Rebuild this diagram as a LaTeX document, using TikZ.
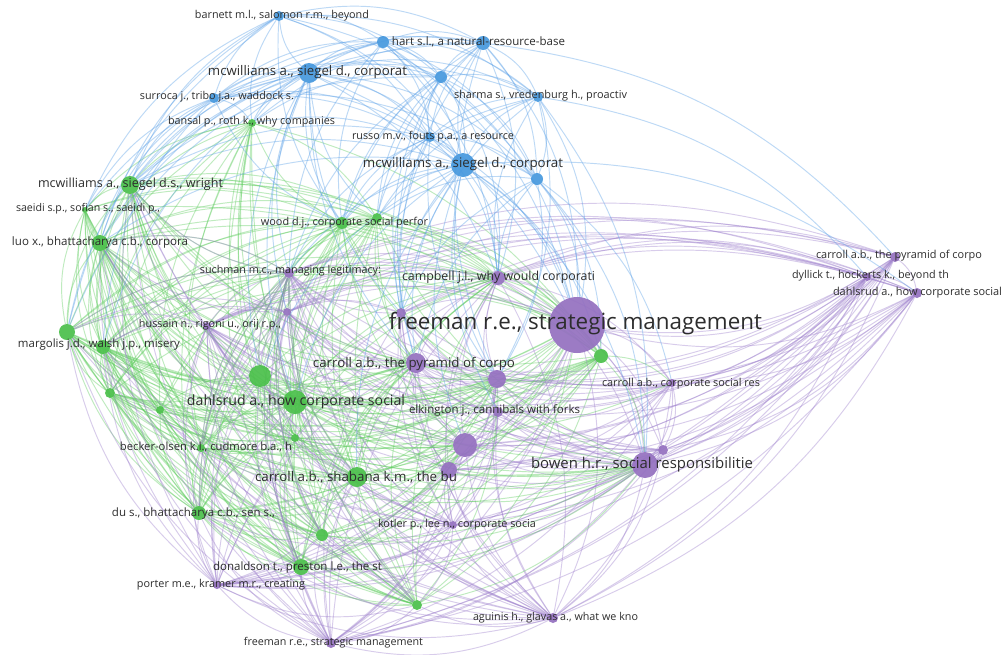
\documentclass[tikz,border=0pt]{standalone}
\usepackage{fontspec}
\setmainfont{Open Sans}
\usepackage{graphicx}
\definecolor{nb}{RGB}{70,152,222}
\definecolor{ng}{RGB}{74,192,74}
\definecolor{np}{RGB}{148,112,192}
\definecolor{eb}{RGB}{90,160,232}
\definecolor{eg}{RGB}{95,205,95}
\definecolor{ep}{RGB}{158,128,205}
\definecolor{txt}{RGB}{45,45,45}
\pgfdeclarelayer{bg}
\pgfdeclarelayer{edges}
\pgfsetlayers{bg,edges,main}
\tikzset{
  dot/.style={circle, inner sep=0pt, outer sep=0pt, draw=none, fill opacity=0.92},
  bdot/.style={dot, fill=nb},
  gdot/.style={dot, fill=ng},
  pdot/.style={dot, fill=np},
  lbl/.style={inner sep=0pt, text=txt, anchor=center},
  eblu/.style={draw=eb, draw opacity=0.4, line width=0.95pt},
  egrn/.style={draw=eg, draw opacity=0.4, line width=0.95pt},
  eprp/.style={draw=ep, draw opacity=0.4, line width=0.95pt},
}
\newcommand\mknode[5]{%
  \node[#5, minimum size=#4*2pt] (#1) at (#2,#3) {};%
  \expandafter\xdef\csname nx#1\endcsname{#2}%
  \expandafter\xdef\csname ny#1\endcsname{#3}}
\newcommand\mylab[5]{\node[lbl] (l#1) at (#2,#3) {\resizebox{#4pt}{!}{#5}};}
\newcommand\lnk[3]{%
  \pgfmathtruncatemacro\lnksgn{((\csname nx#2\endcsname-500)/100*(\csname ny#3\endcsname-330)/100-(\csname ny#2\endcsname-330)/100*(\csname nx#3\endcsname-500)/100)>0 ? 1 : 0}%
  \ifnum\lnksgn=1 \draw[#1] (#2) to[bend left=20] (#3);\else\draw[#1] (#2) to[bend right=20] (#3);\fi}
\def\BL{bar,hs,hart,mc1,b4,sur,sha,rus,mc2,b10}
\def\GL{ban,mcw,sae,wood,g2,luo,g3,mar,g26,g27,g24,dah,g28,bec,csh,du,g35,don,g39,g21}
\def\PL{such,p17,hus,p20,camp,free,pyr,p23,elk,p30,p31,crs,bow,p33,kot,por,agu,fr2,pyr2,dyl,dah2}
\begin{document}
\begin{tikzpicture}[x=1pt,y=-1pt]
\begin{pgfonlayer}{bg}
\fill[white] (0,0) rectangle (1003,654);
\end{pgfonlayer}
\useasboundingbox (0,0) rectangle (1003,654);
% blue nodes
\mknode{bar}{279}{16}{5}{bdot}
\mknode{hs}{383}{42}{6}{bdot}
\mknode{hart}{483}{43}{7}{bdot}
\mknode{mc1}{309}{73}{10}{bdot}
\mknode{b4}{441}{77}{6}{bdot}
\mknode{sur}{214}{98}{5}{bdot}
\mknode{sha}{538}{97}{5}{bdot}
\mknode{rus}{430}{137}{5}{bdot}
\mknode{mc2}{463}{165}{12}{bdot}
\mknode{b10}{537}{179}{6}{bdot}
% green nodes
\mknode{ban}{252}{123}{4}{gdot}
\mknode{mcw}{130}{185}{9}{gdot}
\mknode{sae}{85}{210}{3}{gdot}
\mknode{wood}{342}{223}{6}{gdot}
\mknode{g2}{377}{218}{5}{gdot}
\mknode{luo}{100}{243}{8}{gdot}
\mknode{g3}{67}{332}{8}{gdot}
\mknode{mar}{103}{347}{7}{gdot}
\mknode{g26}{110}{393}{5}{gdot}
\mknode{g27}{160}{410}{4}{gdot}
\mknode{g24}{260}{376}{11}{gdot}
\mknode{dah}{295}{402}{12}{gdot}
\mknode{g28}{295}{438}{4}{gdot}
\mknode{bec}{201}{448}{4}{gdot}
\mknode{csh}{357}{477}{10}{gdot}
\mknode{du}{199}{513}{7}{gdot}
\mknode{g35}{322}{535}{6}{gdot}
\mknode{don}{301}{567}{8}{gdot}
\mknode{g39}{417}{605}{5}{gdot}
\mknode{g21}{601}{356}{7}{gdot}
% purple nodes
\mknode{such}{289}{273}{5}{pdot}
\mknode{p17}{287}{312}{4}{pdot}
\mknode{hus}{207}{326}{4}{pdot}
\mknode{p20}{401}{313}{5}{pdot}
\mknode{camp}{498}{278}{7}{pdot}
\mknode{free}{577}{325}{28}{pdot}
\mknode{pyr}{416}{363}{10}{pdot}
\mknode{p23}{497}{379}{9}{pdot}
\mknode{elk}{498}{412}{5}{pdot}
\mknode{p30}{465}{445}{12}{pdot}
\mknode{p31}{449}{470}{8}{pdot}
\mknode{crs}{672}{383}{4}{pdot}
\mknode{bow}{645}{465}{13}{pdot}
\mknode{p33}{663}{450}{5}{pdot}
\mknode{kot}{453}{525}{4}{pdot}
\mknode{por}{217}{585}{4}{pdot}
\mknode{agu}{553}{618}{5}{pdot}
\mknode{fr2}{331}{643}{5}{pdot}
\mknode{pyr2}{895}{257}{5}{pdot}
\mknode{dyl}{867}{277}{4}{pdot}
\mknode{dah2}{917}{293}{5}{pdot}
% labels
\mylab{bar}{282}{16}{174}{barnett m.l., salomon r.m., beyond}
\mylab{hart}{478.5}{42}{173}{hart s.l., a natural-resource-base}
\mylab{mc1}{307.5}{72}{199}{mcwilliams a., siegel d., corporat}
\mylab{sur}{217}{97}{154}{surroca j., tribo j.a., waddock s.}
\mylab{sha}{540.5}{96}{173}{sharma s., vredenburg h., proactiv}
\mylab{ban}{251.5}{122}{167}{bansal p., roth k., why companies}
\mylab{rus}{433}{137}{162}{russo m.v., fouts p.a., a resource}
\mylab{mc2}{463}{164}{200}{mcwilliams a., siegel d., corporat}
\mylab{mcw}{130.5}{184}{185}{mcwilliams a., siegel d.s., wright}
\mylab{sae}{88}{209}{144}{saeidi s.p., sofian s., saeidi p.,}
\mylab{wood}{344.5}{223}{167}{wood d.j., corporate social perfor}
\mylab{luo}{100}{242}{176}{luo x., bhattacharya c.b., corpora}
\mylab{such}{290.5}{271}{181}{suchman m.c., managing legitimacy:}
\mylab{camp}{498.5}{277}{193}{campbell j.l., why would corporati}
\mylab{free}{575.5}{324}{373}{freeman r.e., strategic management}
\mylab{hus}{210}{325}{142}{hussain n., rigoni u., orij r.p.,}
\mylab{mar}{99}{345}{162}{margolis j.d., walsh j.p., misery}
\mylab{pyr}{414}{364}{202}{carroll a.b., the pyramid of corpo}
\mylab{crs}{681}{384}{158}{carroll a.b., corporate social res}
\mylab{dah}{296}{402}{218}{dahlsrud a., how corporate social}
\mylab{elk}{494.5}{410}{171}{elkington j., cannibals with forks}
\mylab{bec}{206}{447}{172}{becker-olsen k.l., cudmore b.a., h}
\mylab{csh}{356}{477}{202}{carroll a.b., shabana k.m., the bu}
\mylab{bow}{642}{465}{222}{bowen h.r., social responsibilitie}
\mylab{du}{193.5}{514}{163}{du s., bhattacharya c.b., sen s.,}
\mylab{kot}{457}{525}{158}{kotler p., lee n., corporate socia}
\mylab{don}{297.5}{567}{169}{donaldson t., preston l.e., the st}
\mylab{por}{221}{585}{168}{porter m.e., kramer m.r., creating}
\mylab{agu}{555.5}{618}{165}{aguinis h., glavas a., what we kno}
\mylab{fr2}{333.5}{643}{179}{freeman r.e., strategic management}
\mylab{pyr2}{899}{256}{166}{carroll a.b., the pyramid of corpo}
\mylab{dyl}{870.5}{276}{157}{dyllick t., hockerts k., beyond th}
\mylab{dah2}{917.5}{293}{169}{dahlsrud a., how corporate social}
% edges
\begin{pgfonlayer}{edges}
% within clusters
\foreach \a [count=\i] in \GL {\foreach \b [count=\j] in \GL {\ifnum\j>\i \lnk{egrn}{\a}{\b}\fi}}
\foreach \a [count=\i] in \PL {\foreach \b [count=\j] in \PL {\ifnum\j>\i \lnk{eprp}{\a}{\b}\fi}}
\foreach \a [count=\i] in \BL {\foreach \b [count=\j] in \BL {\ifnum\j>\i \lnk{eblu}{\a}{\b}\fi}}
% green to purple
\foreach \a in {mcw,luo,g3,mar,g24,dah,csh,du,don,wood,g2,g21,g35,bec,g28,g26,g39}
  {\foreach \b in {free,pyr,camp,p23,p30,such,bow} {\lnk{egrn}{\a}{\b}}}
\lnk{egrn}{g21}{crs}
\lnk{egrn}{dah}{crs}
% purple to green
\foreach \a in {por,fr2,hus,such,p17,kot,agu}
  {\foreach \b in {du,don,g35,csh,dah,g24,mar,g3,luo,mcw,bec,g39} {\lnk{eprp}{\a}{\b}}}
% blue to others
\foreach \b in {mcw,luo,sae,ban,wood,g2,such,camp,free,pyr,dah,g24,g3,mar,p20,p17} {\lnk{eblu}{mc1}{\b}}
\foreach \b in {mcw,luo,ban,wood,g2,such,camp,free,pyr,p23,dah,g24,csh,bow,dah2,g21,p20,elk,p30} {\lnk{eblu}{mc2}{\b}}
\foreach \b in {ban,wood,g2,camp,free,mcw,pyr2,p23,p20} {\lnk{eblu}{hart}{\b}}
\foreach \b in {ban,wood,mcw,luo,free,camp,such} {\lnk{eblu}{hs}{\b}}
\foreach \b in {wood,g2,camp,free,such,ban,mcw,p20,pyr} {\lnk{eblu}{b4}{\b}}
\foreach \b in {camp,free,g2,wood,dyl,bow,p23,p20} {\lnk{eblu}{sha}{\b}}
\foreach \b in {wood,g2,camp,free,such,pyr,mcw,p20,p23} {\lnk{eblu}{rus}{\b}}
\foreach \b in {camp,free,g21,bow,crs,p23,pyr,g2,p20} {\lnk{eblu}{b10}{\b}}
\foreach \b in {mcw,luo,sae,ban,g3,wood} {\lnk{eblu}{bar}{\b}}
\foreach \b in {mcw,luo,sae,ban,g3,mar,wood} {\lnk{eblu}{sur}{\b}}
\end{pgfonlayer}
\end{tikzpicture}
\end{document}
